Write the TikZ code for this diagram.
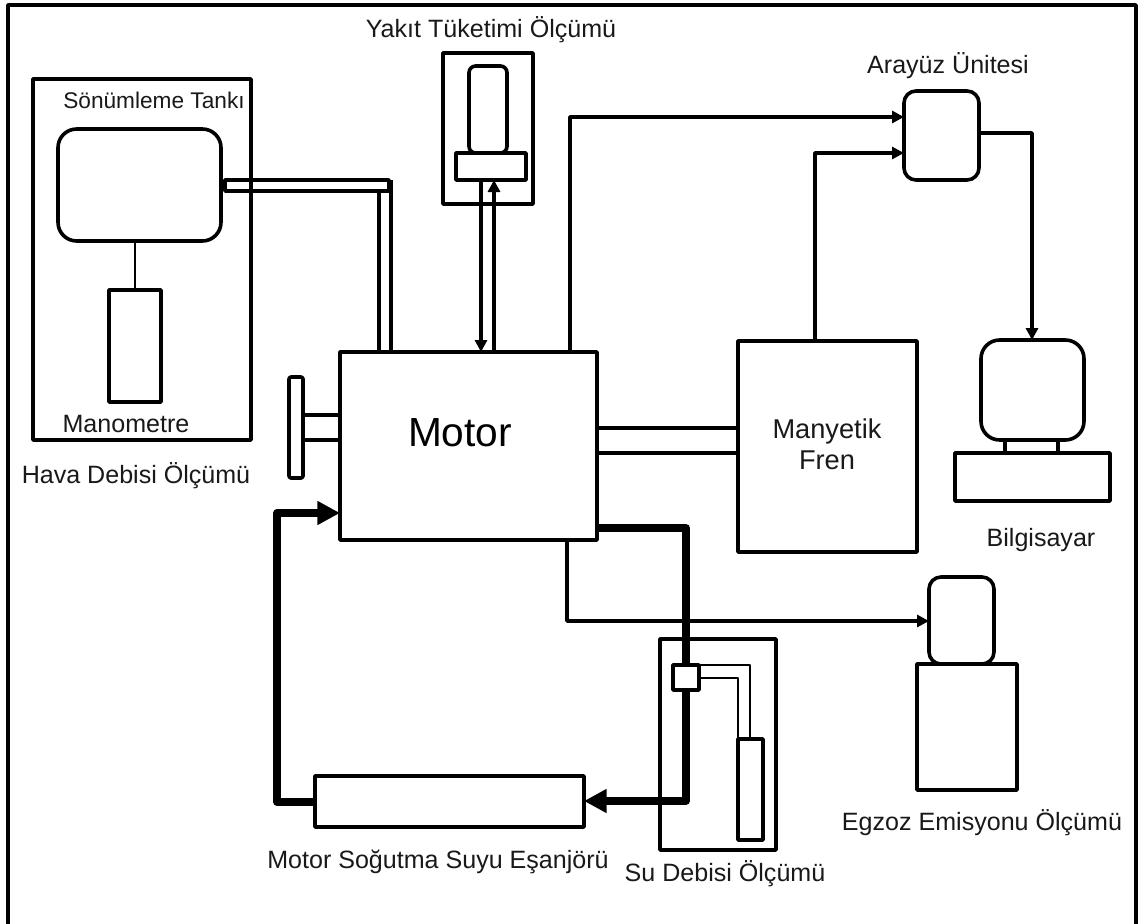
\documentclass[tikz,border=0pt]{standalone}
\usepackage{fontspec}
\setmainfont{Liberation Sans}
\usetikzlibrary{arrows.meta}
\newcommand{\pxbox}[6]{\node[pxb,#1,minimum width={((#5)-(#3))*0.75pt},minimum height={((#6)-(#4))*0.75pt}] (#2) at ({((#3)+(#5))/2},{((#4)+(#6))/2}) {};}
\tikzset{
  pxb/.style={draw=black,line width=2.7pt,rectangle,inner sep=0pt,outer sep=0pt,line join=round},
  roundA/.style={rounded corners=14pt},
  roundB/.style={rounded corners=9pt},
  roundC/.style={rounded corners=5pt},
  roundD/.style={rounded corners=1.5pt},
  filled/.style={fill=white},
  thin line/.style={draw=black,line width=2.7pt,line join=round},
  finer/.style={draw=black,line width=1.8pt,line join=round},
  flow/.style={thin line,-{Triangle[length=9pt,width=9pt]}},
  heavy/.style={draw=black,line width=5.8pt,line join=round},
  heavy flow/.style={heavy,-{Triangle[length=17pt,width=17pt]}},
  lab/.style={font=\fontsize{18.8pt}{23.3pt}\selectfont,inner sep=0pt,align=center,text=black!90},
  labs/.style={lab,font=\fontsize{17pt}{20pt}\selectfont},
  labm/.style={lab,font=\fontsize{20.4pt}{23.3pt}\selectfont},
  bigl/.style={font=\fontsize{30.5pt}{36pt}\selectfont,inner sep=0pt},
}
\begin{document}
\begin{tikzpicture}[x=0.75pt,y=-0.75pt]
\useasboundingbox (0,0) rectangle (1147,924);
\fill[white] (0,0) rectangle (1147,924);
% outer frame: its lower edge lies outside the picture
\coordinate (frameBL) at (8,924);
\coordinate (frameTL) at (8,5);
\coordinate (frameTR) at (1136,5);
\coordinate (frameBR) at (1136,924);
\draw[thin line] (frameBL) -- (frameTL) -- (frameTR) -- (frameBR);
% main boxes
\pxbox{}{motor}{340}{352}{597}{540}
\pxbox{}{fren}{738}{341}{917}{552}
\pxbox{roundA}{tank}{58}{129}{221}{241}
\pxbox{}{mano}{109}{290}{161}{402}
\pxbox{filled}{pipeH}{225}{180}{389}{191}
\pxbox{}{hava}{33}{79}{251}{440}
\pxbox{}{yakit}{443}{53}{533}{204}
\pxbox{roundC}{burette}{469}{66}{507}{153}
\pxbox{filled}{yakitbase}{456}{153}{526}{180}
\pxbox{roundB}{arayuz}{904}{91}{979}{180}
\pxbox{roundA}{monitor}{981}{340}{1084}{440}
\pxbox{}{stand}{1005}{440}{1058}{453}
\pxbox{}{keyboard}{955}{453}{1110}{501}
\pxbox{roundD}{wheel}{289}{377}{303}{478}
\pxbox{}{exch}{315}{776}{584}{827}
\pxbox{roundB}{emisA}{929}{577}{994}{664}
\pxbox{}{emisB}{917}{664}{1017}{790}
\pxbox{}{su}{660}{639}{776}{850}
\pxbox{}{suRect}{738}{739}{763}{840}
% waypoints
\coordinate (pOut) at (391,180);
\coordinate (pIn) at (379,191);
\coordinate (fuelDown) at (481,180);
\coordinate (fuelUp) at (494,180);
\coordinate (sigA) at (570,117);
\coordinate (sigB) at (815,153);
\coordinate (sigC) at (1032,133);
\coordinate (wheelA) at (303,415);
\coordinate (wheelB) at (303,440);
\coordinate (shaftA) at (597,428);
\coordinate (shaftB) at (597,453);
\coordinate (retStart) at (277,802);
\coordinate (retY) at (277,513);
\coordinate (hotY) at (597,528);
\coordinate (hotX) at (686,801);
\coordinate (emisY) at (567,621);
\coordinate (suA) at (750,665);
\coordinate (suB) at (738,678);
\coordinate (tankMano) at (135,241);
% connectors
\draw[finer] (tankMano) -- (tankMano |- mano.north);
\draw[thin line] (pOut) -- (pOut |- motor.north);
\draw[thin line] (pIn) -- (pIn |- motor.north);
\draw[flow] (fuelDown) -- (fuelDown |- motor.north);
\draw[flow] (fuelUp |- motor.north) -- (fuelUp);
\draw[flow] (sigA |- motor.north) -- (sigA) -- (sigA -| arayuz.west);
\draw[flow] (sigB |- fren.north) -- (sigB) -- (sigB -| arayuz.west);
\draw[flow] (sigC -| arayuz.east) -- (sigC) -- (sigC |- monitor.north);
\draw[thin line] (wheelA) -- (wheelA -| motor.west);
\draw[thin line] (wheelB) -- (wheelB -| motor.west);
\draw[thin line] (shaftA) -- (shaftA -| fren.west);
\draw[thin line] (shaftB) -- (shaftB -| fren.west);
\draw[flow] (emisY |- motor.south) -- (emisY) -- (emisY -| emisA.west);
\draw[heavy flow] (retStart -| exch.west) -- (retStart) -- (retY) -- (retY -| motor.west);
\draw[heavy flow] (hotY) -- (hotY -| hotX) -- (hotX) -- (hotX -| exch.east);
% flow meter on top of the heavy line
\pxbox{filled}{suSq}{673}{665}{699}{690}
\draw[finer] (suSq.north east) -- (suA) -- (suA |- suRect.north);
\draw[finer] (suB -| suSq.east) -- (suB) -- (suB |- suRect.north);
% labels
\node[bigl] (tMotor) at (460,433) {Motor};
\node[lab] (tYakit) at (491,30) {Yakıt Tüketimi Ölçümü};
\node[lab] (tArayuz) at (948,66) {Arayüz Ünitesi};
\node[labs] (tSon) at (154,100) {Sönümleme Tankı};
\node[lab] (tMano) at (126,424) {Manometre};
\node[lab] (tHava) at (136,476) {Hava Debisi Ölçümü};
\node[labm] (tFren) at (827,444) {Manyetik\\Fren};
\node[lab] (tBil) at (1041,540) {Bilgisayar};
\node[lab] (tEgz) at (982,823) {Egzoz Emisyonu Ölçümü};
\node[lab] (tExch) at (438,862) {Motor Soğutma Suyu Eşanjörü};
\node[lab] (tSu) at (725,874) {Su Debisi Ölçümü};
\end{tikzpicture}
\end{document}
